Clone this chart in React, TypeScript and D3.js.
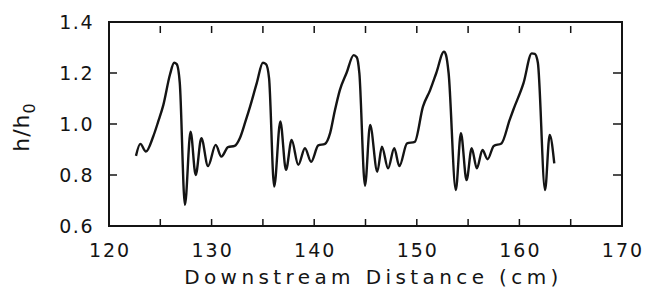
import { useEffect, useRef } from 'react'
import * as d3 from 'd3'

// distance along the channel (cm) and normalized depth h/h0
const distance = [
  122.63, 123.05, 123.6, 124.3, 124.8, 125.3, 125.95, 126.35, 126.6, 126.9,
  127.4, 127.95, 128.45, 129.0, 129.65, 130.4, 130.95, 131.6, 132.25, 132.75,
  133.3, 133.75, 134.4, 135.0, 135.3, 135.6, 136.1, 136.7, 137.25, 137.8,
  138.45, 139.1, 139.7, 140.4, 141.05, 141.55, 142.0, 142.5, 143.15, 143.85,
  144.15, 144.4, 144.95, 145.45, 146.15, 146.6, 147.2, 147.8, 148.3, 149.05,
  149.8, 150.6, 151.3, 151.9, 152.65, 152.85, 153.1, 153.8, 154.3, 154.85,
  155.35, 155.85, 156.4, 156.9, 157.5, 158.25, 159.05, 159.4, 160.4, 161.2,
  161.5, 161.8, 162.5, 162.95, 163.4,
]
const depth = [
  0.875, 0.922, 0.892, 0.95, 1.01, 1.075, 1.195, 1.24, 1.235, 1.16,
  0.683, 0.97, 0.80, 0.944, 0.835, 0.918, 0.872, 0.909, 0.914, 0.944,
  1.01, 1.068, 1.16, 1.24, 1.235, 1.18, 0.755, 1.01, 0.82, 0.937,
  0.84, 0.905, 0.852, 0.916, 0.922, 0.964, 1.05, 1.133, 1.2, 1.27,
  1.262, 1.2, 0.758, 0.996, 0.813, 0.911, 0.826, 0.905, 0.835, 0.924,
  0.93, 1.068, 1.133, 1.2, 1.284, 1.27, 1.2, 0.741, 0.964, 0.78,
  0.905, 0.826, 0.898, 0.862, 0.914, 0.924, 1.016, 1.055, 1.16, 1.277,
  1.275, 1.24, 0.741, 0.957, 0.846,
]

const xTickLabels = [120, 130, 140, 150, 160, 170]
const xMinorTicks = [125, 130, 135, 140, 145, 150, 155, 160, 165]
const yTickLabels = [0.6, 0.8, 1.0, 1.2, 1.4]
const yInnerTicks = [0.8, 1.0, 1.2]

export default function App() {
  const ref = useRef<SVGSVGElement>(null)

  useEffect(() => {
    if (!ref.current) return
    const svg = d3.select(ref.current)
    svg.selectAll('*').remove()

    const width = 646
    const height = 290
    const margin = { top: 22, right: 24, bottom: 64, left: 109 }
    const iw = width - margin.left - margin.right
    const ih = height - margin.top - margin.bottom
    const ink = '#141414'
    const font = '"DejaVu Sans", Verdana, sans-serif'

    svg.attr('width', width).attr('height', height)
    const g = svg.append('g').attr('transform', `translate(${margin.left},${margin.top})`)

    const x = d3.scaleLinear().domain([120, 170]).range([0, iw])
    const y = d3.scaleLinear().domain([0.6, 1.4]).range([ih, 0])

    // frame
    g.append('rect')
      .attr('x', 0).attr('y', 0).attr('width', iw).attr('height', ih)
      .attr('fill', 'none').attr('stroke', ink).attr('stroke-width', 2)

    // inward ticks, top and bottom
    xMinorTicks.forEach(t => {
      g.append('line')
        .attr('x1', x(t)).attr('x2', x(t)).attr('y1', ih).attr('y2', ih - 7)
        .attr('stroke', ink).attr('stroke-width', 1.5)
      g.append('line')
        .attr('x1', x(t)).attr('x2', x(t)).attr('y1', 4).attr('y2', 11)
        .attr('stroke', ink).attr('stroke-width', 1.5)
    })
    // inward ticks, left and right
    yInnerTicks.forEach(t => {
      g.append('line')
        .attr('x1', 0).attr('x2', 8).attr('y1', y(t)).attr('y2', y(t))
        .attr('stroke', ink).attr('stroke-width', 1.5)
      g.append('line')
        .attr('x1', iw).attr('x2', iw - 9).attr('y1', y(t)).attr('y2', y(t))
        .attr('stroke', ink).attr('stroke-width', 1.5)
    })

    // tick labels
    xTickLabels.forEach(t => {
      g.append('text')
        .attr('x', x(t) + 1).attr('y', ih + 31)
        .attr('text-anchor', 'middle')
        .attr('font-family', font).attr('font-size', '19px')
        .attr('letter-spacing', '2px')
        .attr('fill', ink)
        .text(String(t))
    })
    yTickLabels.forEach(t => {
      g.append('text')
        .attr('x', -15).attr('y', y(t) + 7)
        .attr('text-anchor', 'end')
        .attr('font-family', font).attr('font-size', '19px')
        .attr('letter-spacing', '1.5px')
        .attr('fill', ink)
        .text(t.toFixed(1))
    })

    // axis titles
    g.append('text')
      .attr('x', iw / 2 + 8).attr('y', ih + 58)
      .attr('text-anchor', 'middle')
      .attr('font-family', font).attr('font-size', '20px')
      .attr('letter-spacing', '4.4px')
      .attr('fill', ink)
      .text('Downstream Distance (cm)')

    const yl = svg.append('text')
      .attr('transform', `translate(${29},${127}) rotate(-90)`)
      .attr('text-anchor', 'middle')
      .attr('font-family', font).attr('font-size', '22px')
      .attr('letter-spacing', '1px')
      .attr('fill', ink)
    yl.append('tspan').text('h/h')
    yl.append('tspan').attr('dy', 6).attr('font-size', '16px').text('0')

    // trace
    const pts = distance.map((d, i) => [d, depth[i]] as [number, number])
    const line = d3.line<[number, number]>()
      .x(d => x(d[0]))
      .y(d => y(d[1]))
      .curve(d3.curveMonotoneX)

    g.append('path')
      .datum(pts)
      .attr('d', line)
      .attr('fill', 'none')
      .attr('stroke', ink)
      .attr('stroke-width', 2.4)
      .attr('stroke-linejoin', 'round')
  }, [])

  return (
    <div style={{ position: 'absolute', left: 0, top: 0, background: '#fff' }}>
      <svg ref={ref} style={{ display: 'block' }} />
    </div>
  )
}
